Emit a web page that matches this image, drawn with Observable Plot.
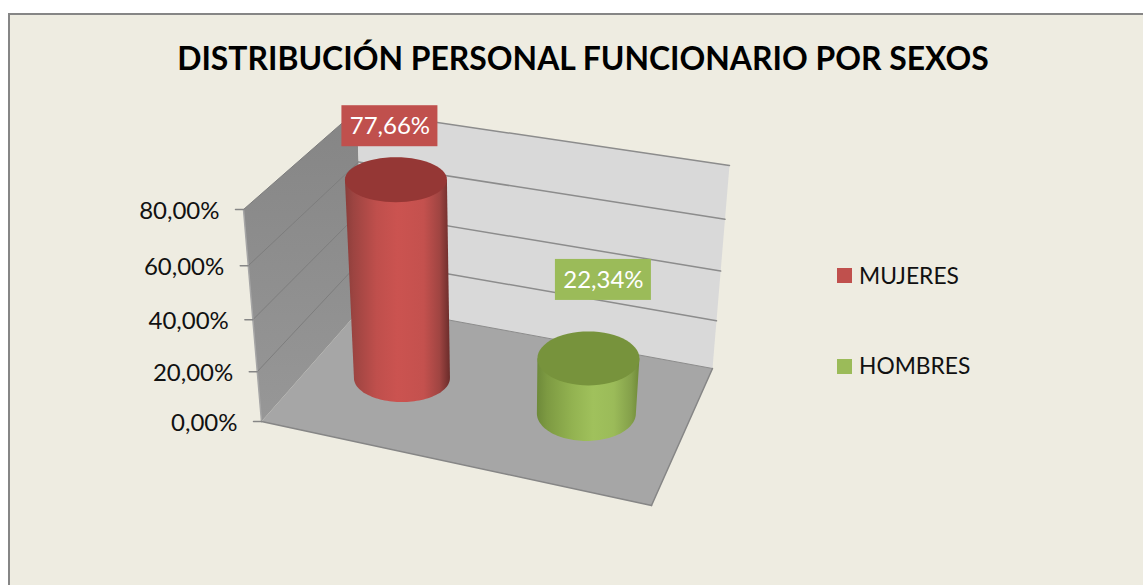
<!DOCTYPE html>
<html><head><meta charset="utf-8">
<style>html,body{margin:0;padding:0;background:#fff}svg{display:block}</style>
<script src="https://cdn.jsdelivr.net/npm/d3@7"></script>
<script src="https://cdn.jsdelivr.net/npm/@observablehq/plot@0.6"></script>
</head><body><div id="chart"></div>
<script>
// data
const categories = ["MUJERES", "HOMBRES"];
const shares = [77.66, 22.34];
const axisTicks = [0, 20, 40, 60, 80];
const titleText = "DISTRIBUCIÓN PERSONAL FUNCIONARIO POR SEXOS";

// colours
const sideColors = ["#c0504d", "#9bbb59"];
const topColors = ["#953735", "#77933c"];

// 3-D scene: corners of the box as seen by the camera
const W = 1143, H = 585;
const corners = {
  f0: [261, 421], f1: [243, 209], r0: [651, 505], r1: [664, 284],
  b0: [364, 304], b1: [356, 110], q0: [712, 368], q1: [729, 165]
};
const vMax = 80;
const lift = v => { const s = v / vMax; return s * (0.92 + 0.08 * s); };
const mix = (p, q, t) => [p[0] + (q[0] - p[0]) * t, p[1] + (q[1] - p[1]) * t];
function project(a, d, v) {
  const c = corners, t = lift(v);
  const bottom = mix(mix(c.f0, c.r0, a), mix(c.b0, c.q0, a), d);
  const top = mix(mix(c.f1, c.r1, a), mix(c.b1, c.q1, a), d);
  return mix(bottom, top, t);
}
const slot = [{a: 0.236, d: 0.52, rb: [48, 24], rt: [51, 22.5], lab: [-6, -53.5]},
              {a: 0.735, d: 0.53, rb: [49.5, 27.5], rt: [51, 27], lab: [15, -78.5]}];

const poly = (pts, o) => Plot.line(pts, {x: p => p[0], y: p => p[1], curve: "linear-closed", stroke: "none", ...o});
const seg = (p, q, o) => Plot.line([p, q], {x: d => d[0], y: d => d[1], ...o});
const ell = (c, r, from, to, n = 60) => d3.range(n + 1).map(i => {
  const th = from + (to - from) * i / n;
  return [c[0] + r[0] * Math.cos(th), c[1] + r[1] * Math.sin(th)];
});

function defs() {
  const svgNS = "http://www.w3.org/2000/svg";
  const el = document.createElementNS(svgNS, "defs");
  const grad = (id, stops, vertical) => {
    const g = document.createElementNS(svgNS, "linearGradient");
    g.setAttribute("id", id);
    g.setAttribute("x1", 0); g.setAttribute("y1", 0);
    g.setAttribute("x2", vertical ? 0 : 1); g.setAttribute("y2", vertical ? 1 : 0);
    for (const [o, col] of stops) {
      const s = document.createElementNS(svgNS, "stop");
      s.setAttribute("offset", o); s.setAttribute("stop-color", col);
      g.appendChild(s);
    }
    el.appendChild(g);
  };
  grad("cyl0", [[0,"#8a3d3a"],[0.08,"#9c4441"],[0.3,"#bf4f4c"],[0.5,"#cb5350"],[0.75,"#c4514e"],[0.9,"#a04542"],[1,"#6a2c2a"]]);
  grad("cyl1", [[0,"#6e8a3a"],[0.1,"#7d9a42"],[0.35,"#93b351"],[0.55,"#a0c15c"],[0.75,"#9bbb59"],[0.92,"#84a04a"],[1,"#6f8a38"]]);
  grad("wall", [[0,"#858585"],[1,"#979797"]], true);
  return el;
}

const marks = [
  defs,
  Plot.rect([0], {x1: () => 9, x2: () => W + 20, y1: () => 14, y2: () => H + 20, fill: "#eeece1", stroke: "#868686", strokeWidth: 2}),
  // left wall, back wall, floor
  poly([project(0,0,0), project(0,0,vMax), project(0,1,vMax), project(0,1,0)], {fill: "url(#wall)"}),
  poly([project(0,1,0), project(0,1,vMax), project(1,1,vMax), project(1,1,0)], {fill: "#d9d9d9"}),
  poly([project(0,0,0), project(1,0,0), project(1,1,0), project(0,1,0)], {fill: "#a6a6a6"}),
  // gridlines and ticks
  ...axisTicks.filter(v => v > 0).flatMap(v => [
    seg(project(0,0,v), project(0,1,v), {stroke: "#7d7d7d", strokeWidth: 1}),
    seg(project(0,1,v), project(1,1,v), {stroke: "#8c8c8c", strokeWidth: 1.5})
  ]),
  seg(project(0,1,0), project(1,1,0), {stroke: "#8c8c8c", strokeWidth: 1}),
  seg(project(0,0,0), project(0,0,vMax), {stroke: "#a6a6a6", strokeWidth: 1.5}),
  seg(project(0,0,0), project(1,0,0), {stroke: "#868686", strokeWidth: 1.5}),
  seg(project(1,0,0), project(1,1,0), {stroke: "#868686", strokeWidth: 1.5}),
  ...axisTicks.map(v => seg(project(0,0,v), [project(0,0,v)[0] - 8, project(0,0,v)[1]], {stroke: "#868686", strokeWidth: 1.5})),
  Plot.text(axisTicks, {
    x: v => project(0,0,v)[0], y: v => project(0,0,v)[1],
    text: v => d3.format(".2f")(v).replace(".", ",") + "%",
    textAnchor: "end", dx: -24, dy: 2, fontSize: 24, fontFamily: "Lato", fill: "#111"
  }),
  // cylinders
  ...shares.flatMap((v, i) => {
    const s = slot[i], b = project(s.a, s.d, 0), t = project(s.a, s.d, v);
    const body = [[t[0] - s.rt[0], t[1]], ...ell(b, s.rb, Math.PI, 0), [t[0] + s.rt[0], t[1]]];
    return [
      poly(body, {fill: `url(#cyl${i})`}),
      poly(ell(t, s.rt, 0, 2 * Math.PI), {fill: topColors[i]}),
      Plot.rect([v], {
        x1: () => t[0] + s.lab[0] - 48, x2: () => t[0] + s.lab[0] + 48,
        y1: () => t[1] + s.lab[1] - 20.5, y2: () => t[1] + s.lab[1] + 20.5,
        fill: sideColors[i]
      }),
      Plot.text([v], {
        x: () => t[0] + s.lab[0], y: () => t[1] + s.lab[1],
        text: d => d.toFixed(2).replace(".", ",") + "%",
        fontSize: 24, fontFamily: "Lato", fill: "#fff"
      })
    ];
  }),
  // title
  Plot.text([titleText], {x: () => 582.5, y: () => 59, text: d => d, fontSize: 31.9, fontWeight: 700, fontFamily: "Lato", fill: "#000"}),
  // legend
  Plot.rect(categories, {x1: () => 837, x2: () => 852, y1: (d, i) => 268 + 91 * i, y2: (d, i) => 283 + 91 * i, fill: (d, i) => sideColors[i]}),
  Plot.text(categories, {x: () => 858.5, y: (d, i) => 276 + 90 * i, text: d => d, textAnchor: "start", fontSize: 22.8, fontFamily: "Lato", fill: "#111"})
];

const chart = Plot.plot({
  width: W, height: H, margin: 0,
  style: {background: "#fff", overflow: "hidden"},
  x: {domain: [0, W], range: [0, W], axis: null},
  y: {domain: [0, H], range: [0, H], axis: null},
  color: {type: "identity"},
  marks
});
document.getElementById("chart").appendChild(chart);
</script></body></html>
